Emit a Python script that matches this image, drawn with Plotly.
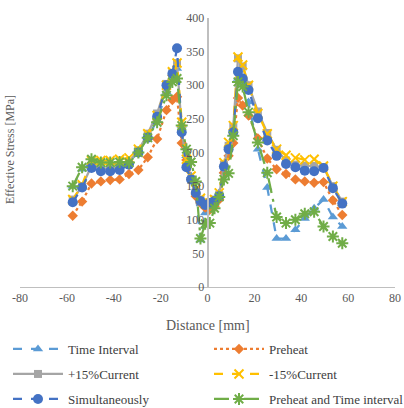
import plotly.graph_objects as go

distance = [-57.5, -53.5, -49.5, -45.5, -41.5, -37.5, -33.5, -29.5, -25.5, -21.5,
            -17.5, -15, -13, -11, -9, -7, -5, -3, -1,
            1, 3, 5, 7, 9, 11, 13, 15, 17.5, 21.5,
            25.5, 29.5, 33.5, 37.5, 41.5, 45.5, 49.5, 53.5, 57.5]

time_interval = [150, 175, 185, 180, 182, 183, 186, 200, 222, 248,
                 290, 310, 325, 240, 195, 165, 140, 70, 110,
                 118, 125, 140, 172, 210, 235, 310, 300, 275, 205,
                 148, 72, 72, 85, 102, 117, 130, 104, 90]
preheat = [106, 127, 154, 157, 159, 160, 168, 174, 193, 220,
           263, 278, 283, 214, 189, 160, 135, 125, 118,
           115, 120, 130, 170, 195, 214, 281, 270, 255, 221,
           191, 175, 168, 160, 157, 155, 156, 129, 107]
plus15 = [130, 150, 180, 176, 176, 178, 186, 203, 228, 258,
          302, 318, 333, 235, 180, 160, 142, 130, 124,
          126, 130, 137, 182, 210, 238, 340, 328, 300, 261,
          229, 204, 188, 182, 180, 180, 178, 150, 127]
minus15 = [130, 152, 188, 188, 188, 190, 192, 205, 228, 255,
           300, 320, 333, 245, 190, 165, 145, 132, 125,
           125, 130, 140, 185, 215, 240, 342, 330, 300, 258,
           228, 205, 196, 192, 189, 190, 180, 150, 127]
simultaneously = [126, 148, 177, 172, 172, 174, 182, 200, 222, 253,
                  300, 317, 355, 230, 178, 160, 140, 128, 122,
                  125, 128, 135, 179, 205, 230, 320, 310, 293, 251,
                  218, 195, 183, 178, 173, 172, 177, 147, 124]
preheat_time = [150, 178, 190, 185, 185, 186, 185, 200, 222, 245,
                285, 305, 310, 240, 205, 186, 157, 72, 94,
                95, 117, 134, 160, 169, 225, 305, 298, 260, 215,
                170, 104, 95, 100, 109, 112, 90, 75, 65]

names = ["Time Interval", "Preheat", "+15%Current", "-15%Current",
         "Simultaneously", "Preheat and Time interval"]
x_ticks = [-80, -60, -40, -20, 0, 20, 40, 60, 80]
x_tick_text = ["-80", "-60", "-40", "-20", "0", "20", "40", "60", "80"]
y_ticks = [0, 50, 100, 150, 200, 250, 300, 350, 400]

series = [time_interval, preheat, plus15, minus15, simultaneously, preheat_time]
colors = ["#5B9BD5", "#ED7D31", "#A5A5A5", "#FFC000", "#4472C4", "#70AD47"]
dashes = ["dash", "dot", "solid", "dash", "dash", "longdashdot"]
symbols = ["triangle-up", "diamond", "square", "x-thin-open", "circle", "asterisk-open"]
sizes = [9, 8, 8, 9, 10, 10]
legend_ids = ["legend", "legend2", "legend3", "legend4", "legend5", "legend6"]

fig = go.Figure()
for nm, ys, c, d, s, sz, lg in zip(names, series, colors, dashes, symbols, sizes, legend_ids):
    marker = dict(symbol=s, size=sz, color=c)
    if s.endswith("open"):
        marker["line"] = dict(color=c, width=2)
    fig.add_trace(go.Scatter(x=distance, y=ys, name=nm, mode="lines+markers",
                             line=dict(color=c, width=2.25, dash=d),
                             marker=marker, legend=lg))

font_family = "Liberation Serif, DejaVu Serif, serif"
leg_common = dict(orientation="h", itemwidth=50, xanchor="left", yanchor="middle",
                  font=dict(family=font_family, size=13, color="#404040"),
                  bgcolor="rgba(0,0,0,0)", itemclick=False)
col_x = [(8 - 20) / 375, (209 - 20) / 375]
row_y = [(287 - 349) / 269, (287 - 374) / 269, (287 - 399) / 269]
leg_layout = {}
for i, lg in enumerate(legend_ids):
    leg_layout[lg] = dict(leg_common, x=col_x[i % 2], y=row_y[i // 2])

fig.update_layout(
    width=404, height=408,
    margin=dict(l=20, r=9, t=18, b=121, autoexpand=False),
    paper_bgcolor="white", plot_bgcolor="white",
    font=dict(family=font_family, color="#595959"),
    showlegend=True,
    **leg_layout,
    xaxis=dict(range=[-80, 80], tickvals=x_ticks, ticktext=x_tick_text,
               showgrid=False, zeroline=False,
               showline=True, linecolor="#BFBFBF", linewidth=1,
               tickfont=dict(family=font_family, size=12, color="#595959")),
    yaxis=dict(range=[0, 400], tickvals=y_ticks, showgrid=False, zeroline=False,
               showline=True, linecolor="#BFBFBF", linewidth=1.5,
               anchor="free", position=0.5,
               tickfont=dict(family=font_family, size=12, color="#595959")),
    annotations=[
        dict(text="Distance [mm]", xref="paper", yref="paper", x=0.5, y=(287 - 325) / 269,
             xanchor="center", yanchor="middle", showarrow=False,
             font=dict(family=font_family, size=14, color="#595959")),
        dict(text="Effective Stress [MPa]", xref="paper", yref="paper", x=(10 - 20) / 375,
             y=(287 - 150) / 269, textangle=-90, xanchor="center", yanchor="middle",
             showarrow=False, font=dict(family=font_family, size=12, color="#595959")),
    ],
)
fig.write_html("out.html")
